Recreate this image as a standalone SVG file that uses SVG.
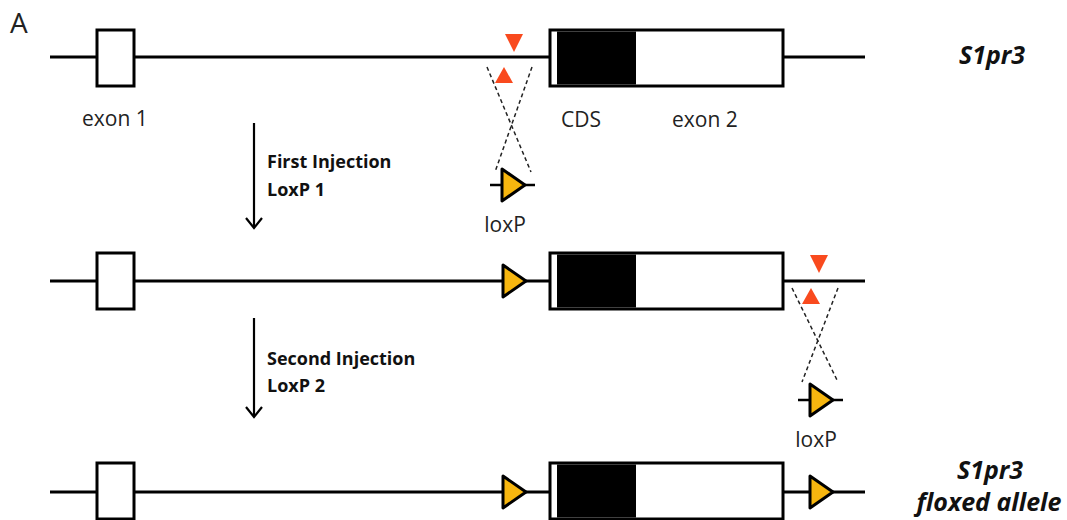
<svg xmlns="http://www.w3.org/2000/svg" xmlns:xlink="http://www.w3.org/1999/xlink" width="1067" height="520" viewBox="0 0 1067 520">
  <style>
    .dna { stroke: #000; stroke-width: 3; fill: none; }
    .exon { stroke: #000; stroke-width: 3; fill: #fff; }
    .cds { fill: #000; }
    .lbl { font-family: "Open Sans", "Noto Sans", sans-serif; font-size: 21px; fill: #222; }
    .step { font-family: "Open Sans", "Noto Sans", sans-serif; font-size: 18px; font-weight: bold; fill: #111; }
    .gene { font-family: "Open Sans", "Noto Sans", sans-serif; font-size: 25px; font-weight: bold; font-style: italic; fill: #111; }
    .cut { fill: #F94A1E; }
    .cross { stroke: #222; stroke-width: 1.5; stroke-dasharray: 4 3; fill: none; }
    .flow { stroke: #000; stroke-width: 2.2; fill: none; }
  </style>
  <defs>
    <!-- loxP site: yellow triangle pointing right, centred on its baseline -->
    <polygon id="loxp" points="-11,-16 12,0 -11,16" fill="#F7B60F" stroke="#000" stroke-width="3" stroke-linejoin="round"/>
    <!-- small loxP fragment with flanking DNA -->
    <g id="loxpFrag">
      <line x1="-23" y1="0" x2="22" y2="0" stroke="#000" stroke-width="2.5"/>
      <use xlink:href="#loxp"/>
    </g>
    <!-- exon 2: UTR strip, CDS block and remaining exon -->
    <g id="exon2">
      <rect x="550" y="0" width="233" height="56" class="exon"/>
      <rect x="557" y="1.5" width="79" height="53" class="cds"/>
    </g>
    <rect id="exon1" x="97" y="0" width="37" height="56" class="exon"/>
  </defs>

  <text x="10" y="33" font-family="Open Sans, Noto Sans, sans-serif" font-size="28" fill="#222">A</text>

  <!-- wild-type allele -->
  <g id="allele-wt">
    <line x1="50" y1="57" x2="865" y2="57" class="dna"/>
    <use xlink:href="#exon1" y="30"/>
    <use xlink:href="#exon2" y="30"/>
    <text x="82" y="126" class="lbl">exon 1</text>
    <text x="561" y="127" class="lbl">CDS</text>
    <text x="672" y="127" class="lbl">exon 2</text>
    <text x="992" y="64" class="gene" text-anchor="middle">S1pr3</text>
  </g>

  <!-- first targeting site -->
  <g id="target-1">
    <polygon points="505,34 523,34 514,52" class="cut"/>
    <polygon points="495,83 513,83 504,67" class="cut"/>
    <line x1="487" y1="67" x2="531" y2="172" class="cross"/>
    <line x1="532" y1="67" x2="495" y2="172" class="cross"/>
    <use xlink:href="#loxpFrag" x="513" y="185"/>
    <text x="505" y="232" class="lbl" text-anchor="middle">loxP</text>
  </g>

  <!-- allele after first injection -->
  <g id="allele-loxp1">
    <line x1="50" y1="281" x2="865" y2="281" class="dna"/>
    <use xlink:href="#exon1" y="253"/>
    <use xlink:href="#exon2" y="253"/>
    <use xlink:href="#loxp" x="514" y="281"/>
  </g>

  <!-- second targeting site -->
  <g id="target-2">
    <polygon points="810,255 828,255 819,273" class="cut"/>
    <polygon points="802,304 820,304 811,288" class="cut"/>
    <line x1="792" y1="288" x2="838" y2="382" class="cross"/>
    <line x1="838" y1="288" x2="802" y2="382" class="cross"/>
    <use xlink:href="#loxpFrag" x="821" y="400"/>
    <text x="816" y="447" class="lbl" text-anchor="middle">loxP</text>
  </g>

  <!-- floxed allele -->
  <g id="allele-floxed">
    <line x1="50" y1="492" x2="865" y2="492" class="dna"/>
    <use xlink:href="#exon1" y="463"/>
    <use xlink:href="#exon2" y="463"/>
    <use xlink:href="#loxp" x="514" y="492"/>
    <use xlink:href="#loxp" x="821" y="492"/>
    <text x="990" y="479" class="gene" text-anchor="middle">S1pr3</text>
    <text x="989" y="511" class="gene" text-anchor="middle">floxed allele</text>
  </g>

  <!-- injection steps -->
  <g id="connectors">
    <g id="step-1">
      <line x1="254" y1="123" x2="254" y2="227" class="flow"/>
      <polyline points="246,218 254,228 262,218" class="flow"/>
    </g>
    <g id="step-2">
      <line x1="254" y1="318" x2="254" y2="416" class="flow"/>
      <polyline points="246,407 254,417 262,407" class="flow"/>
    </g>
  </g>
  <text x="267" y="168" class="step">First Injection</text>
  <text x="267" y="196" class="step">LoxP 1</text>
  <text x="267" y="365" class="step">Second Injection</text>
  <text x="267" y="392" class="step">LoxP 2</text>
</svg>
